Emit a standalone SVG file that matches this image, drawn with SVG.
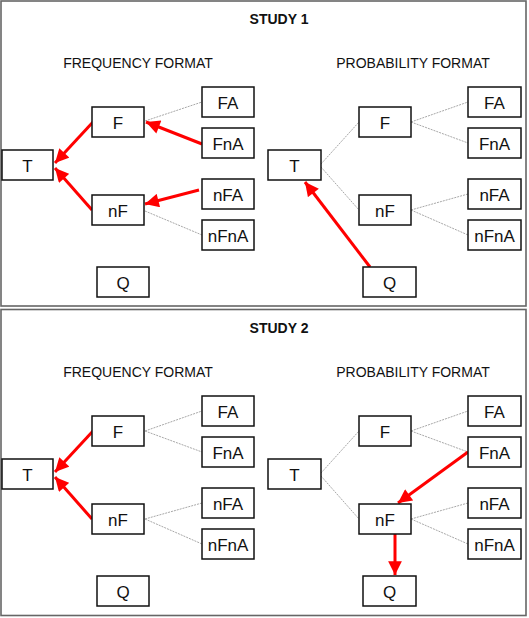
<svg xmlns="http://www.w3.org/2000/svg" width="529" height="618" viewBox="0 0 529 618">
<style>
.panel{fill:#fff;stroke:#666;stroke-width:1.6}
.box{fill:#fff;stroke:#111;stroke-width:1.5}
.lbl{font-family:"Liberation Sans",Arial,sans-serif;font-size:17px;fill:#111;text-anchor:middle}
.title{font-family:"Liberation Sans",Arial,sans-serif;font-size:14px;font-weight:bold;fill:#111;text-anchor:middle}
.fmt{font-family:"Liberation Sans",Arial,sans-serif;font-size:14px;fill:#111;text-anchor:middle}
.dot{stroke:#a8a8a8;stroke-width:1;stroke-dasharray:2,1;fill:none}
.red{stroke:#f00;stroke-width:3;fill:none;marker-end:url(#ah)}
</style>
<defs>
<marker id="ah" viewBox="0 0 10 10" refX="10" refY="5" markerWidth="5" markerHeight="4.6" orient="auto" markerUnits="strokeWidth">
<path d="M0,0 L10,5 L0,10 z" fill="#f00"/>
</marker>
</defs>
<rect class="panel" x="1" y="1" width="525" height="305"/>
<rect class="panel" x="1" y="309.5" width="525" height="306"/>
<g id="titles">
<text class="title" x="279" y="24">STUDY 1</text>
<text class="fmt" x="138" y="68">FREQUENCY FORMAT</text>
<text class="fmt" x="413" y="68">PROBABILITY FORMAT</text>
<text class="title" x="279" y="333">STUDY 2</text>
<text class="fmt" x="138" y="377">FREQUENCY FORMAT</text>
<text class="fmt" x="413" y="377">PROBABILITY FORMAT</text>
</g>
<g id="connectors">
<!-- Study 1 frequency -->
<line class="dot" x1="145" y1="121" x2="202" y2="102"/>
<line class="dot" x1="145" y1="211" x2="202" y2="235"/>
<line class="red" x1="93" y1="122" x2="55" y2="163"/>
<line class="red" x1="92" y1="210" x2="55" y2="168"/>
<line class="red" x1="202" y1="144" x2="146" y2="122"/>
<line class="red" x1="199" y1="190" x2="145" y2="204"/>
<!-- Study 1 probability -->
<line class="dot" x1="321" y1="164" x2="359" y2="122"/>
<line class="dot" x1="321" y1="167" x2="359" y2="210"/>
<line class="dot" x1="411" y1="122" x2="468" y2="102"/>
<line class="dot" x1="411" y1="122" x2="468" y2="143"/>
<line class="dot" x1="411" y1="210" x2="468" y2="194"/>
<line class="dot" x1="411" y1="210" x2="468" y2="235"/>
<line class="red" x1="370" y1="267" x2="305" y2="182"/>
<!-- Study 2 frequency -->
<line class="dot" x1="145" y1="431" x2="202" y2="411"/>
<line class="dot" x1="145" y1="431" x2="202" y2="452"/>
<line class="dot" x1="145" y1="519" x2="202" y2="503"/>
<line class="dot" x1="145" y1="519" x2="202" y2="544"/>
<line class="red" x1="93" y1="431" x2="55" y2="472"/>
<line class="red" x1="92" y1="519" x2="55" y2="477"/>
<!-- Study 2 probability -->
<line class="dot" x1="321" y1="473" x2="359" y2="431"/>
<line class="dot" x1="321" y1="476" x2="359" y2="519"/>
<line class="dot" x1="411" y1="431" x2="468" y2="411"/>
<line class="dot" x1="411" y1="431" x2="468" y2="452"/>
<line class="dot" x1="411" y1="519" x2="468" y2="503"/>
<line class="dot" x1="411" y1="519" x2="468" y2="544"/>
<line class="red" x1="468" y1="452" x2="398" y2="503"/>
<line class="red" x1="395" y1="534" x2="395" y2="575"/>
</g>
<!-- Study 1 frequency nodes -->
<g id="s1f-T"><rect class="box" x="2" y="150" width="51" height="30"/><text class="lbl" x="27.5" y="172">T</text></g>
<g id="s1f-F"><rect class="box" x="92" y="107" width="52" height="30"/><text class="lbl" x="118" y="129">F</text></g>
<g id="s1f-nF"><rect class="box" x="92" y="195" width="52" height="30"/><text class="lbl" x="118" y="217">nF</text></g>
<g id="s1f-FA"><rect class="box" x="202" y="87" width="52" height="30"/><text class="lbl" x="228" y="109">FA</text></g>
<g id="s1f-FnA"><rect class="box" x="202" y="128" width="52" height="30"/><text class="lbl" x="228" y="150">FnA</text></g>
<g id="s1f-nFA"><rect class="box" x="202" y="179" width="52" height="30"/><text class="lbl" x="228" y="201">nFA</text></g>
<g id="s1f-nFnA"><rect class="box" x="202" y="220" width="52" height="30"/><text class="lbl" x="228" y="242">nFnA</text></g>
<g id="s1f-Q"><rect class="box" x="97" y="267" width="52" height="30"/><text class="lbl" x="123" y="289">Q</text></g>
<!-- Study 1 probability nodes -->
<g id="s1p-T"><rect class="box" x="268" y="150" width="53" height="30"/><text class="lbl" x="294.5" y="172">T</text></g>
<g id="s1p-F"><rect class="box" x="359" y="107" width="52" height="30"/><text class="lbl" x="385" y="129">F</text></g>
<g id="s1p-nF"><rect class="box" x="359" y="195" width="52" height="30"/><text class="lbl" x="385" y="217">nF</text></g>
<g id="s1p-FA"><rect class="box" x="468" y="87" width="53" height="30"/><text class="lbl" x="494.5" y="109">FA</text></g>
<g id="s1p-FnA"><rect class="box" x="468" y="128" width="53" height="30"/><text class="lbl" x="494.5" y="150">FnA</text></g>
<g id="s1p-nFA"><rect class="box" x="468" y="179" width="53" height="30"/><text class="lbl" x="494.5" y="201">nFA</text></g>
<g id="s1p-nFnA"><rect class="box" x="468" y="220" width="53" height="30"/><text class="lbl" x="494.5" y="242">nFnA</text></g>
<g id="s1p-Q"><rect class="box" x="363" y="267" width="53" height="30"/><text class="lbl" x="389.5" y="289">Q</text></g>
<!-- Study 2 frequency nodes -->
<g id="s2f-T"><rect class="box" x="2" y="459" width="51" height="30"/><text class="lbl" x="27.5" y="481">T</text></g>
<g id="s2f-F"><rect class="box" x="92" y="416" width="52" height="30"/><text class="lbl" x="118" y="438">F</text></g>
<g id="s2f-nF"><rect class="box" x="92" y="504" width="52" height="30"/><text class="lbl" x="118" y="526">nF</text></g>
<g id="s2f-FA"><rect class="box" x="202" y="396" width="52" height="30"/><text class="lbl" x="228" y="418">FA</text></g>
<g id="s2f-FnA"><rect class="box" x="202" y="437" width="52" height="30"/><text class="lbl" x="228" y="459">FnA</text></g>
<g id="s2f-nFA"><rect class="box" x="202" y="488" width="52" height="30"/><text class="lbl" x="228" y="510">nFA</text></g>
<g id="s2f-nFnA"><rect class="box" x="202" y="529" width="52" height="30"/><text class="lbl" x="228" y="551">nFnA</text></g>
<g id="s2f-Q"><rect class="box" x="97" y="576" width="52" height="30"/><text class="lbl" x="123" y="598">Q</text></g>
<!-- Study 2 probability nodes -->
<g id="s2p-T"><rect class="box" x="268" y="459" width="53" height="30"/><text class="lbl" x="294.5" y="481">T</text></g>
<g id="s2p-F"><rect class="box" x="359" y="416" width="52" height="30"/><text class="lbl" x="385" y="438">F</text></g>
<g id="s2p-nF"><rect class="box" x="359" y="504" width="52" height="30"/><text class="lbl" x="385" y="526">nF</text></g>
<g id="s2p-FA"><rect class="box" x="468" y="396" width="53" height="30"/><text class="lbl" x="494.5" y="418">FA</text></g>
<g id="s2p-FnA"><rect class="box" x="468" y="437" width="53" height="30"/><text class="lbl" x="494.5" y="459">FnA</text></g>
<g id="s2p-nFA"><rect class="box" x="468" y="488" width="53" height="30"/><text class="lbl" x="494.5" y="510">nFA</text></g>
<g id="s2p-nFnA"><rect class="box" x="468" y="529" width="53" height="30"/><text class="lbl" x="494.5" y="551">nFnA</text></g>
<g id="s2p-Q"><rect class="box" x="363" y="576" width="53" height="30"/><text class="lbl" x="389.5" y="598">Q</text></g>
</svg>
